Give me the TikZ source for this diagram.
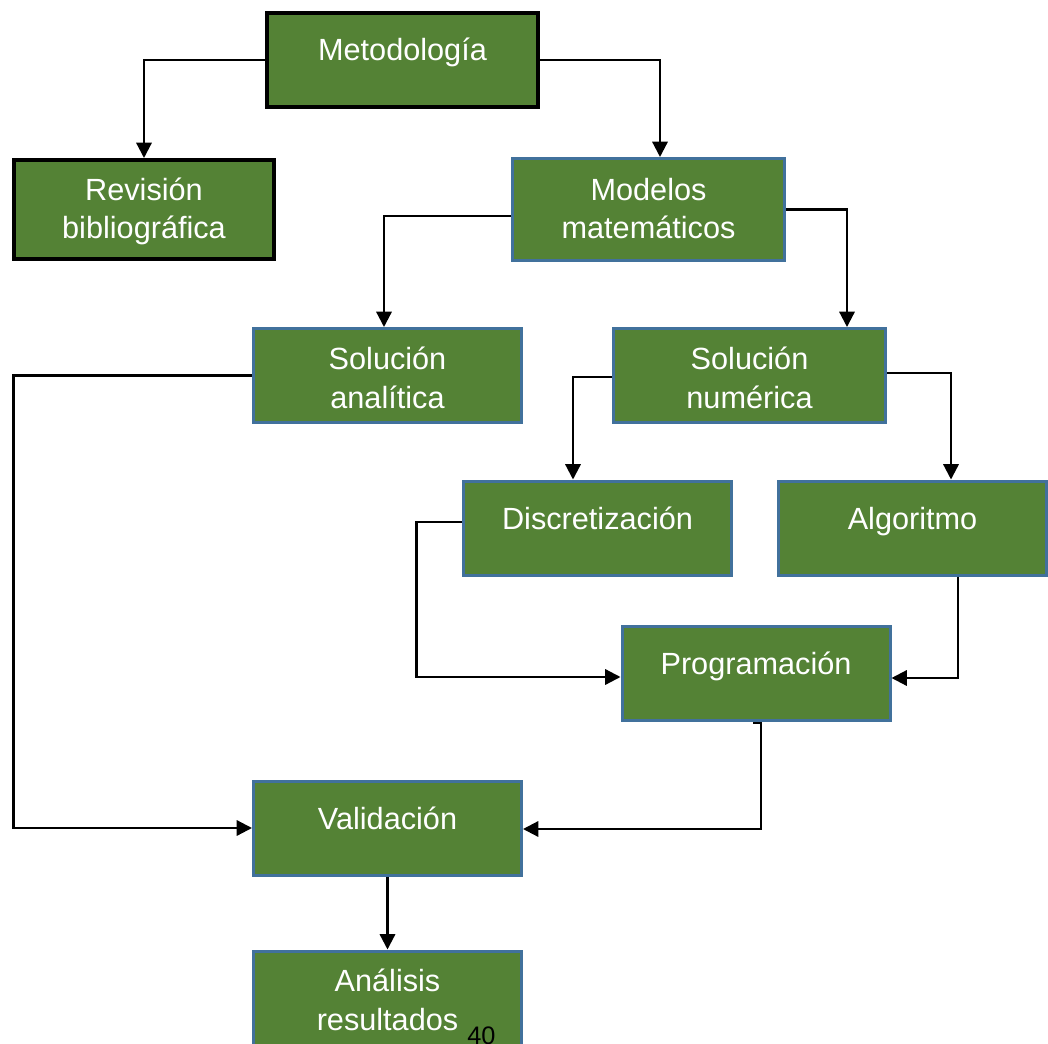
\documentclass[tikz,border=0pt]{standalone}
\usepackage{fontspec}
\setmainfont{Liberation Sans}
\usetikzlibrary{arrows.meta,calc}
\definecolor{boxgreen}{RGB}{84,130,53}
\definecolor{boxblue}{RGB}{65,113,156}
\tikzset{>={Triangle[length=11.5pt,width=11.5pt]}}
\tikzset{%
    paso/.style={draw=boxblue, line width=2.25pt, fill=boxgreen, text=white,
        inner sep=0pt, minimum width=201pt, minimum height=70.5pt,
        font=\fontsize{23}{29}\selectfont},
    raiz/.style={paso, draw=black, line width=3pt},
    uno/.style={text height=20pt, text depth=18.5pt},
    dos/.style={align=center, text height=#1, text depth=3.25pt},
    flecha/.style={->, line width=1.7pt}
}

\begin{document}
\begin{tikzpicture}[x=0.75pt, y=-0.75pt]
    \useasboundingbox (0,0) rectangle (1048,1044);
    % cajas
    \node[raiz, uno, minimum width=203pt] (meto) at (402.5,60) {Metodología};
    \node[raiz, dos=47.5pt, minimum width=195pt, minimum height=74.25pt] (rev) at (144,209.5) {Revisión\\bibliográfica};
    \node[paso, dos=47.5pt, minimum width=204pt, minimum height=76.5pt] (mod) at (648.5,209.5) {Modelos\\matemáticos};
    \node[paso, dos=52pt] (sa) at (387.5,375.5) {Solución\\analítica};
    \node[paso, dos=52pt, minimum width=204pt] (sn) at (749.5,375.5) {Solución\\numérica};
    \node[paso, uno] (dis) at (597.5,528) {Discretización};
    \node[paso, uno] (alg) at (912.5,528) {Algoritmo};
    \node[paso, uno] (prog) at (756,673) {Programación};
    \node[paso, uno] (val) at (387.5,828) {Validación};
    \node[paso, dos=47pt, minimum height=75pt] (ana) at (387.5,1001) {Análisis\\resultados};
    \node[anchor=base west, inner sep=0pt, font=\fontsize{19}{22}\selectfont] (pag) at (467,1044) {40};
    % flechas
    \draw[flecha] (meto.west) -| (rev.north);
    \draw[flecha] (meto.east) -| ($(mod.north)+(11.5,0)$);
    \draw[flecha] ($(mod.west)+(0,6.5)$) -| ($(sa.north)+(-3.5,0)$);
    \draw[flecha] (mod.east) -| ($(sn.north)+(97.5,0)$);
    \draw[flecha] ($(sn.west)+(0,1.5)$) -| ($(dis.north)+(-24.5,0)$);
    \draw[flecha] ($(sn.east)+(0,-2.5)$) -| ($(alg.north)+(38.5,0)$);
    \draw[flecha] (sa.west) -- ++(-238.5,0) |- (val.west);
    \draw[flecha] ($(dis.west)+(0,-6)$) -- ++(-45.5,0) |- ($(prog.west)+(0,4)$);
    \draw[flecha] ($(alg.south)+(45.5,0)$) |- ($(prog.east)+(0,5)$);
    \draw[flecha] ($(prog.south)+(-3,1.5)$) -- ++(8,0) |- ($(val.east)+(0,1)$);
    \draw[flecha] (val.south) -- (ana.north);
\end{tikzpicture}
\end{document}
